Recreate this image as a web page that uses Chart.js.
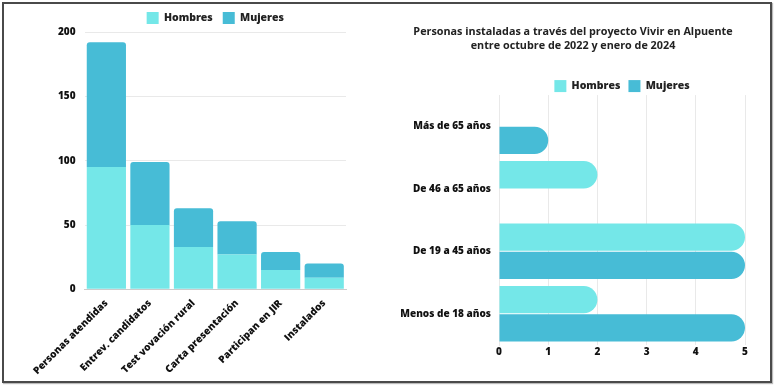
<!DOCTYPE html>
<html lang="es">
<head>
    <meta charset="UTF-8">
    <title>Proyecto Vivir en Alpuente</title>
    <script src="https://cdn.jsdelivr.net/npm/chart.js"></script>
    <style>
        body {
            margin: 0;
            background: #fff;
            font-family: 'Open Sans', sans-serif;
            overflow: hidden;
        }
        #frame {
            position: absolute;
            left: 2px;
            top: 2px;
            width: 766px;
            height: 377px;
            border: 2px solid #4a4a4a;
            box-shadow: 1px 1px 1px #bbb;
        }
        .box {
            position: absolute;
            height: 375px;
        }
        #left { left: 5px; top: 2px; width: 375px; }
        #right { left: 395px; top: 5px; width: 370px; }
    </style>
</head>
<body>
    <div id="frame"></div>
    <div class="box" id="left"><canvas id="stageChart"></canvas></div>
    <div class="box" id="right"><canvas id="ageChart"></canvas></div>

    <script>
        // Left chart: stages of the programme
        const stages = ['Personas atendidas', 'Entrev. candidatos', 'Test vovación rural',
                        'Carta presentación', 'Participan en JIR', 'Instalados'];
        const stageMen = [95, 50, 33, 27, 15, 9];
        const stageWomen = [97, 49, 30, 26, 14, 11];
        const stageTicks = [0, 50, 100, 150, 200];

        // Right chart: installed people by age
        const ages = ['Más de 65 años', 'De 46 a 65 años', 'De 19 a 45 años', 'Menos de 18 años'];
        const ageMen = [0, 2, 5, 2];
        const ageWomen = [1, 0, 5, 5];
        const ageTicks = [0, 1, 2, 3, 4, 5];

        const menColor = '#74e7e8';
        const womenColor = '#47bcd6';
        const gridColor = '#e9e9e9';
        const boldFont = { family: 'Open Sans', size: 10, weight: '800' };

        Chart.defaults.color = '#111';
        Chart.defaults.font.family = 'Open Sans';

        function legendOpts(pad) {
            return {
                position: 'top',
                fullSize: false,
                labels: { boxWidth: 12, boxHeight: 12, padding: pad, color: '#222',
                          font: { family: 'Open Sans', size: 10.5, weight: '800' } }
            };
        }

        // legend padding also sets the gap between items; trim the space under it
        function trimLegend(px) {
            return {
                id: 'trimLegend',
                afterInit(chart) {
                    const legend = chart.legend;
                    const fit = legend.fit;
                    legend.fit = function () { fit.call(this); this.height -= px; };
                }
            };
        }

        new Chart(document.getElementById('stageChart'), {
            type: 'bar',
            data: {
                labels: stages,
                datasets: [
                    { label: 'Hombres', data: stageMen, backgroundColor: menColor,
                      categoryPercentage: 0.9, barPercentage: 1 },
                    { label: 'Mujeres', data: stageWomen, backgroundColor: womenColor,
                      borderRadius: 3, categoryPercentage: 0.9, barPercentage: 1 }
                ]
            },
            options: {
                responsive: true,
                maintainAspectRatio: false,
                animation: false,
                layout: { padding: { left: 44, right: 34, top: 0, bottom: 0 } },
                plugins: {
                    legend: legendOpts(10),
                    tooltip: { enabled: false }
                },
                scales: {
                    x: {
                        stacked: true,
                        grid: { display: false },
                        border: { color: '#ccc' },
                        ticks: { font: boldFont, maxRotation: 45, minRotation: 45, padding: 0 }
                    },
                    y: {
                        stacked: true,
                        min: 0,
                        max: 200,
                        border: { display: false },
                        grid: { color: gridColor, drawTicks: false },
                        afterBuildTicks: axis => { axis.ticks = stageTicks.map(v => ({ value: v })); },
                        ticks: { font: boldFont, padding: 9 }
                    }
                }
            },
            plugins: [trimLegend(2)]
        });

        new Chart(document.getElementById('ageChart'), {
            type: 'bar',
            data: {
                labels: ages,
                datasets: [
                    { label: 'Hombres', data: ageMen, backgroundColor: menColor,
                      borderRadius: 14, categoryPercentage: 0.9, barPercentage: 0.97 },
                    { label: 'Mujeres', data: ageWomen, backgroundColor: womenColor,
                      borderRadius: 14, categoryPercentage: 0.9, barPercentage: 0.97 }
                ]
            },
            options: {
                indexAxis: 'y',
                responsive: true,
                maintainAspectRatio: false,
                animation: false,
                layout: { padding: { left: 6, right: 20, top: 20, bottom: 21 } },
                plugins: {
                    title: {
                        display: true,
                        text: ['Personas instaladas a través del proyecto Vivir en Alpuente',
                               'entre octubre de 2022 y enero de 2024'],
                        color: '#222',
                        font: { family: 'Open Sans', size: 10.8, weight: '700', lineHeight: 1.3 },
                        padding: { top: 0, bottom: 19 }
                    },
                    legend: legendOpts(8),
                    tooltip: { enabled: false }
                },
                scales: {
                    x: {
                        min: 0,
                        max: 5,
                        border: { display: false },
                        grid: { color: gridColor, drawTicks: false },
                        afterBuildTicks: axis => { axis.ticks = ageTicks.map(v => ({ value: v })); },
                        ticks: { font: boldFont, padding: 1 }
                    },
                    y: {
                        grid: { display: false, drawTicks: false },
                        border: { color: gridColor },
                        afterFit: axis => { axis.width = 98; },
                        ticks: { font: boldFont, padding: 8 }
                    }
                }
            },
            plugins: [trimLegend(7)]
        });
    </script>
</body>
</html>
